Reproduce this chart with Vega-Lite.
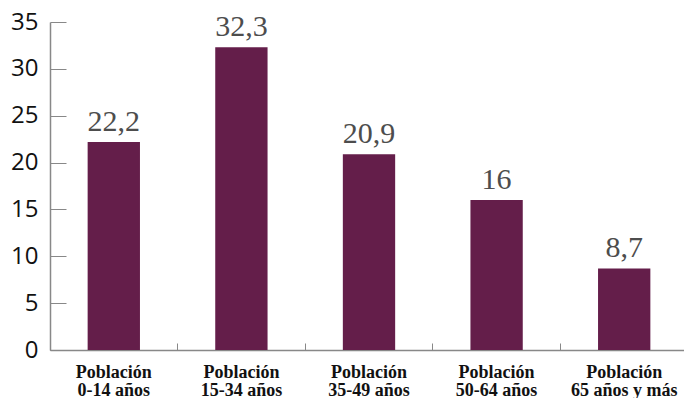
{
  "$schema": "https://vega.github.io/schema/vega-lite/v6.json",
  "width": 638,
  "height": 328,
  "autosize": {"type": "none"},
  "padding": {"left": 50, "top": 22, "right": 0, "bottom": 48},
  "background": "white",
  "config": {
    "view": {"stroke": null},
    "locale": {"number": {"decimal": ",", "thousands": ".", "grouping": [3], "currency": ["", " €"]}}
  },
  "data": {
    "values": [
      {"grupo": "Población|0-14 años", "valor": 22.2},
      {"grupo": "Población|15-34 años", "valor": 32.3},
      {"grupo": "Población|35-49 años", "valor": 20.9},
      {"grupo": "Población|50-64 años", "valor": 16},
      {"grupo": "Población|65 años y más", "valor": 8.7}
    ]
  },
  "encoding": {
    "x": {
      "field": "grupo", "type": "nominal", "sort": null,
      "scale": {"paddingInner": 0, "paddingOuter": 0},
      "axis": {
        "title": null, "labelAngle": 0, "labelExpr": "split(datum.value, '|')",
        "labelFont": "Liberation Serif", "labelFontWeight": "bold", "labelFontSize": 18,
        "labelLineHeight": 18, "labelColor": "#111111", "labelPadding": 20,
        "bandPosition": 0, "tickSize": -7, "tickColor": "#888888", "domainColor": "#888888",
        "tickWidth": 1, "domainWidth": 1.5
      }
    },
    "y": {
      "field": "valor", "type": "quantitative",
      "scale": {"domain": [0, 35], "nice": false},
      "axis": {
        "title": null, "values": [0, 5, 10, 15, 20, 25, 30, 35], "grid": false,
        "labelFont": "Open Sans", "labelFontSize": 24, "labelColor": "#111111",
        "labelPadding": 28, "tickSize": -16, "tickColor": "#888888", "domainColor": "#888888",
        "tickWidth": 1, "domainWidth": 1.5
      }
    }
  },
  "layer": [
    {"mark": {"type": "bar", "color": "#641E4A", "width": {"band": 0.41}}},
    {
      "mark": {"type": "text", "baseline": "alphabetic", "dy": -11, "font": "Liberation Serif", "fontSize": 30, "color": "#4d4d4d"},
      "encoding": {"text": {"field": "valor", "type": "quantitative", "format": ".1~f"}}
    }
  ]
}
